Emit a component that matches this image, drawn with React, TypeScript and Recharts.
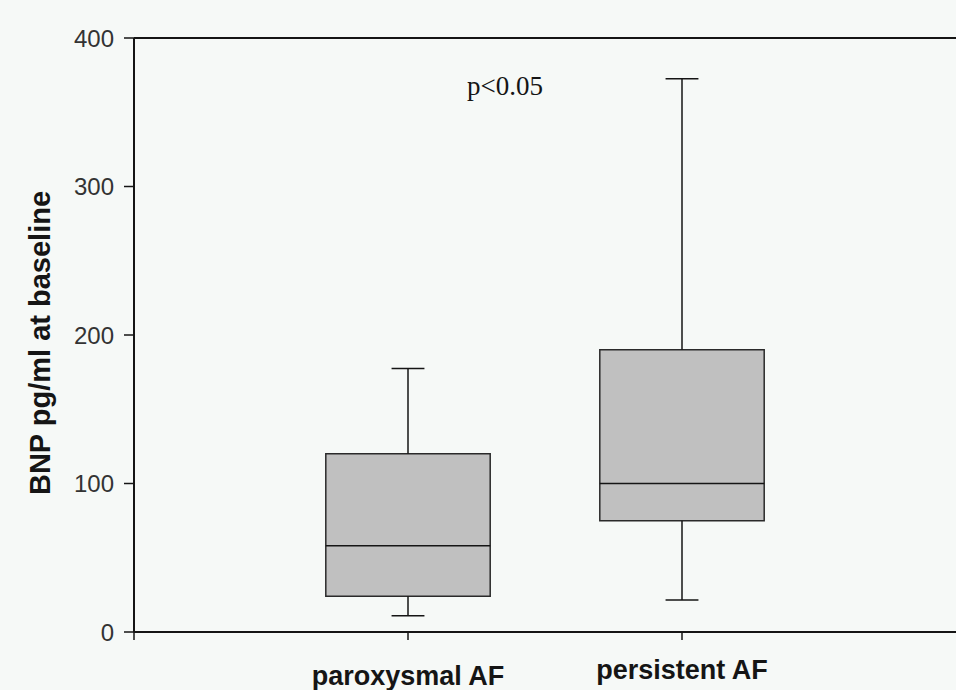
import {
  ComposedChart,
  XAxis,
  YAxis,
  Scatter,
  ReferenceArea,
  ReferenceLine,
  ReferenceDot,
} from "recharts";

// Box plot data (BNP pg/ml at baseline)
const categories = ["paroxysmal AF", "persistent AF"];
const positions = [1, 2];
const whiskerLow = [11, 21.5];
const q1 = [24, 75];
const median = [58, 100];
const q3 = [120, 190];
const whiskerHigh = [177.5, 372.5];
const yTicks = [0, 100, 200, 300, 400];
const xTicks = [0, 1, 2];

const BOX_HALF = 0.3;
const CAP_HALF = 0.06;
const INK = "#151515";

const medianPoints = positions.map((x, i) => ({ x, y: median[i] }));

const labelFor = (v: number) => {
  const i = positions.indexOf(v);
  return i >= 0 ? categories[i] : "";
};

// category labels sit at slightly different heights in the original
const XTick = (props: any) => {
  const { x, y, payload } = props;
  const text = labelFor(payload.value);
  if (!text) return null;
  const dy = payload.value === 1 ? 43 : 37;
  return (
    <text
      x={x}
      y={y + dy}
      textAnchor="middle"
      fontFamily="Arial, 'Liberation Sans', sans-serif"
      fontWeight="bold"
      fontSize={27}
      fill={INK}
    >
      {text}
    </text>
  );
};

const YLabel = () => (
  <text
    x={50}
    y={343}
    transform="rotate(-90, 50, 343)"
    textAnchor="middle"
    fontFamily="Arial, 'Liberation Sans', sans-serif"
    fontWeight="bold"
    fontSize={29}
    fill={INK}
  >
    BNP pg/ml at baseline
  </text>
);

const App = () => (
  <div style={{ position: "absolute", left: 0, top: 0, background: "#f6f9f7" }}>
    <ComposedChart
      width={956}
      height={690}
      margin={{ top: 38, right: 0, left: 0, bottom: 0 }}
    >
      <XAxis
        type="number"
        dataKey="x"
        domain={[0, 3]}
        ticks={xTicks}
        allowDataOverflow
        height={58}
        tickSize={8}
        axisLine={{ stroke: INK, strokeWidth: 2 }}
        tickLine={{ stroke: INK, strokeWidth: 1.5 }}
        tick={<XTick />}
      />
      <YAxis
        type="number"
        dataKey="y"
        domain={[0, 400]}
        ticks={yTicks}
        width={134}
        tickSize={10}
        tickMargin={10}
        axisLine={{ stroke: INK, strokeWidth: 2 }}
        tickLine={{ stroke: INK, strokeWidth: 1.5 }}
        tick={{
          fontFamily: "Arial, 'Liberation Sans', sans-serif",
          fontSize: 24,
          fill: "#333",
        }}
        label={{ content: <YLabel /> }}
      />
      <ReferenceLine y={400} stroke={INK} strokeWidth={2} ifOverflow="visible" />

      {positions.map((x, i) => (
        <ReferenceLine
          key={`wh-${i}`}
          segment={[
            { x, y: q3[i] },
            { x, y: whiskerHigh[i] },
          ]}
          stroke={INK}
          strokeWidth={1.5}
          ifOverflow="visible"
        />
      ))}
      {positions.map((x, i) => (
        <ReferenceLine
          key={`wl-${i}`}
          segment={[
            { x, y: whiskerLow[i] },
            { x, y: q1[i] },
          ]}
          stroke={INK}
          strokeWidth={1.5}
          ifOverflow="visible"
        />
      ))}
      {positions.map((x, i) => (
        <ReferenceLine
          key={`ch-${i}`}
          segment={[
            { x: x - CAP_HALF, y: whiskerHigh[i] },
            { x: x + CAP_HALF, y: whiskerHigh[i] },
          ]}
          stroke={INK}
          strokeWidth={1.5}
          ifOverflow="visible"
        />
      ))}
      {positions.map((x, i) => (
        <ReferenceLine
          key={`cl-${i}`}
          segment={[
            { x: x - CAP_HALF, y: whiskerLow[i] },
            { x: x + CAP_HALF, y: whiskerLow[i] },
          ]}
          stroke={INK}
          strokeWidth={1.5}
          ifOverflow="visible"
        />
      ))}
      {positions.map((x, i) => (
        <ReferenceArea
          key={`box-${i}`}
          x1={x - BOX_HALF}
          x2={x + BOX_HALF}
          y1={q1[i]}
          y2={q3[i]}
          fill="#c0c0c0"
          fillOpacity={1}
          stroke="#2a2a2a"
          strokeWidth={1.5}
          ifOverflow="visible"
        />
      ))}
      {positions.map((x, i) => (
        <ReferenceLine
          key={`med-${i}`}
          segment={[
            { x: x - BOX_HALF, y: median[i] },
            { x: x + BOX_HALF, y: median[i] },
          ]}
          stroke={INK}
          strokeWidth={1.5}
          ifOverflow="visible"
        />
      ))}

      <Scatter
        data={medianPoints}
        isAnimationActive={false}
        shape={() => <g />}
      />

      <ReferenceDot
        x={1.354}
        y={368}
        r={0}
        fill="none"
        stroke="none"
        ifOverflow="visible"
        label={{
          value: "p<0.05",
          position: "center",
          fontFamily: "'Times New Roman', 'Liberation Serif', serif",
          fontSize: 27,
          fill: INK,
        }}
      />
    </ComposedChart>
  </div>
);

export default App;
